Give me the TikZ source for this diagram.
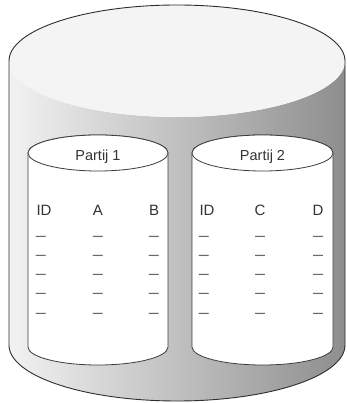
\documentclass[tikz,border=0pt]{standalone}
\usepackage{fontspec}
\setmainfont{Liberation Sans}
\begin{document}
\begin{tikzpicture}[x=1pt,y=1pt]
  \definecolor{rimline}{HTML}{2E2E2E}
  \definecolor{partline}{HTML}{3C3C3C}
  \definecolor{lidfill}{HTML}{F4F4F4}
  \definecolor{sideleft}{HTML}{F2F2F2}
  \definecolor{sideright}{HTML}{8E8E8E}
  \definecolor{labeltext}{HTML}{333333}
  \definecolor{dashtext}{HTML}{6A6A6A}
  \tikzset{
    rim/.style={draw=rimline, line width=0.9pt},
    part/.style={draw=partline, line width=0.8pt, fill=white},
    title/.style={font=\fontsize{14.5}{17}\selectfont, text=labeltext, inner sep=0pt},
    colhead/.style={font=\fontsize{15}{18}\selectfont, text=labeltext, inner sep=0pt},
    cell/.style={font=\fontsize{18}{20}\selectfont, text=dashtext, inner sep=0pt}
  }
  \useasboundingbox (0,0) rectangle (346,403);

  % outer drum: shaded side
  \shade[left color=sideleft, right color=sideright]
    (9,342) -- (9,58) arc[start angle=180, end angle=360, x radius=168, y radius=56]
    -- (345,342) arc[start angle=0, end angle=-180, x radius=168, y radius=56] -- cycle;
  % outer drum: lid
  \fill[lidfill] (177,342) ellipse[x radius=168, y radius=56];
  % outer drum: outline
  \draw[rim] (9,342) -- (9,58) arc[start angle=180, end angle=360, x radius=168, y radius=56]
    -- (345,342);
  \draw[rim] (9,342) arc[start angle=180, end angle=0, x radius=168, y radius=56];

  % partition 1
  \path[part] (28,250) -- (28,56) arc[start angle=180, end angle=360, x radius=70, y radius=18]
    -- (168,250) arc[start angle=0, end angle=180, x radius=70, y radius=18] -- cycle;
  \draw[part] (98,250) ellipse[x radius=70, y radius=18];
  % partition 2
  \path[part] (192,250) -- (192,56) arc[start angle=180, end angle=360, x radius=70.5, y radius=18]
    -- (333,250) arc[start angle=0, end angle=180, x radius=70.5, y radius=18] -- cycle;
  \draw[part] (262.5,250) ellipse[x radius=70.5, y radius=18];

  % titles
  \node[title] (t1) at (98,246) {Partij 1};
  \node[title] (t2) at (262.5,246) {Partij 2};

  % column headers
  \node[colhead] (h1) at (44,193) {ID};
  \node[colhead] (h2) at (98,193) {A};
  \node[colhead] (h3) at (154,193) {B};
  \node[colhead] (h4) at (207,193) {ID};
  \node[colhead] (h5) at (260,193) {C};
  \node[colhead] (h6) at (318,193) {D};

  % empty rows
  \foreach \r/\y in {1/164,2/145,3/126,4/107,5/87}{
    \foreach \c/\x in {1/41,2/98,3/154,4/204,5/260,6/318}{
      \node[cell] (d\c-\r) at (\x,\y) {–};
    }
  }
\end{tikzpicture}
\end{document}
